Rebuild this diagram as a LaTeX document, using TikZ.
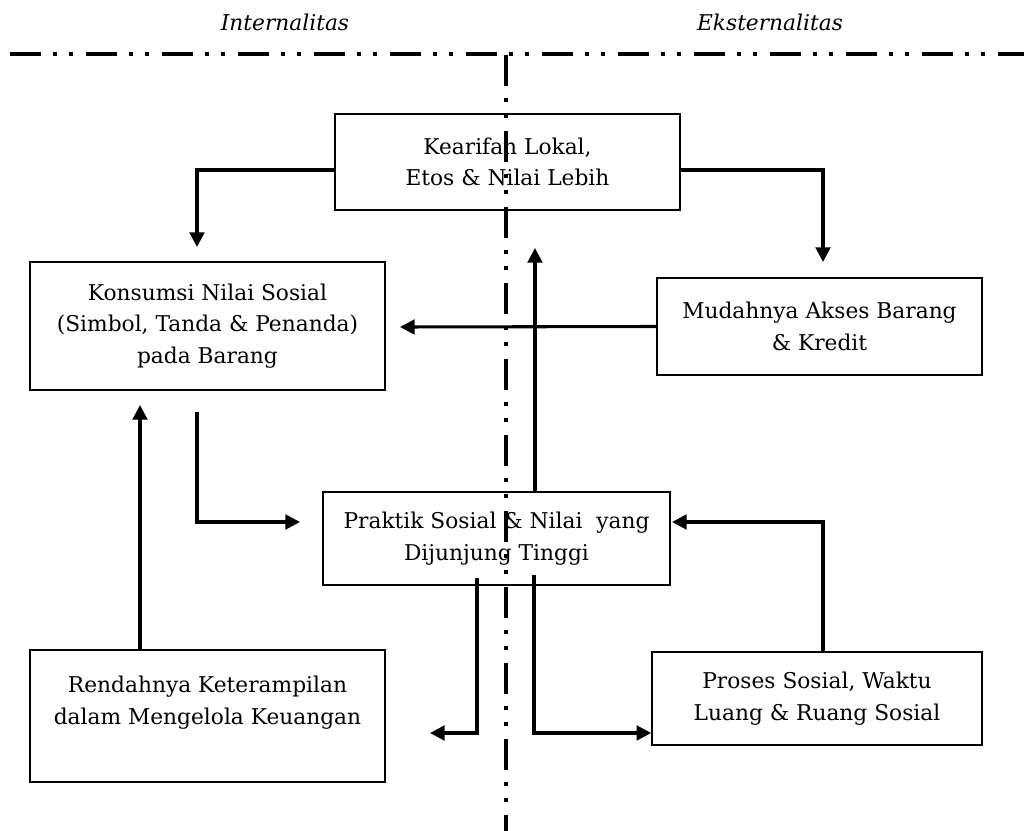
\documentclass[tikz,border=0pt]{standalone}
\usepackage{fontspec}
\setmainfont{DejaVu Serif}
\usetikzlibrary{arrows.meta}
\tikzset{
    box/.style ={
        rectangle,              % kotak
        draw=black,             % warna garis
        line width = 1.1pt,     % tebal garis
        align = center,         % teks di tengah
        inner sep = 0pt,
        font = \fontsize{16.3}{23.5}\selectfont
    },
    arr/.style ={
        line width = 2.3pt,
        -{Triangle[length=11pt, width=11pt]}
    },
    garis/.style ={
        line width = 2.6pt,
        dash pattern = on 23.25pt off 9pt on 3pt off 9pt on 3pt off 9.75pt
    },
    label/.style ={
        font = \fontsize{16.3}{18}\selectfont\itshape
    }
}

\begin{document}
\begin{tikzpicture}[x=0.75pt, y=-0.75pt]
    \useasboundingbox (0,0) rectangle (1024,831);
    % garis pemisah
    \draw[garis] (10,54) -- (1024,54);
    \draw[garis] (506,55) -- (506,831);
    \node[label] (intern) at (285,22) {Internalitas};
    \node[label] (ekstern) at (770,22) {Eksternalitas};
    % kotak
    \node[box, minimum width=345*0.75pt, minimum height=96*0.75pt] (kearifan) at (507.5,162) {Kearifan Lokal,\\Etos \& Nilai Lebih};
    \node[box, minimum width=355*0.75pt, minimum height=128*0.75pt] (konsumsi) at (207.5,326) {Konsumsi Nilai Sosial\\(Simbol, Tanda \& Penanda)\\pada Barang};
    \node[box, minimum width=325*0.75pt, minimum height=97*0.75pt] (mudah) at (819.5,326.5) {Mudahnya Akses Barang\\\& Kredit};
    \node[box, minimum width=347*0.75pt, minimum height=93*0.75pt] (praktik) at (496.5,538.5) {Praktik Sosial \& Nilai\ \ yang\\Dijunjung Tinggi};
    \node[box, minimum width=355*0.75pt, minimum height=132*0.75pt] (rendah) at (207.5,716) {Rendahnya Keterampilan\\dalam Mengelola Keuangan\\\mbox{}};
    \node[box, minimum width=330*0.75pt, minimum height=93*0.75pt] (proses) at (817,698.5) {Proses Sosial, Waktu\\Luang \& Ruang Sosial};
    % titik bantu
    \coordinate (a1) at (197,247);
    \coordinate (a2) at (823,262);
    \coordinate (a3) at (400,327);
    \coordinate (a4) at (197,412);
    \coordinate (a5) at (300,522);
    \coordinate (a6) at (140,405);
    \coordinate (a7) at (535,248);
    \coordinate (a8) at (477,578);
    \coordinate (a9) at (430,733);
    \coordinate (a10) at (534,575);
    \coordinate (a11) at (672,522);
    % panah
    \draw[arr] ([yshift=-6pt]kearifan.west) -| (a1);
    \draw[arr] ([yshift=-6pt]kearifan.east) -| (a2);
    \draw[arr] (mudah.west) -- (a3);
    \draw[arr] (a4) |- (a5);
    \draw[arr] (rendah.north -| a6) -- (a6);
    \draw[arr] (praktik.north -| a7) -- (a7);
    \draw[arr] (a8) |- (a9);
    \draw[arr] (a10) |- (proses.west |- a9);
    \draw[arr] (proses.north -| a2) |- (a11);
\end{tikzpicture}
\end{document}
